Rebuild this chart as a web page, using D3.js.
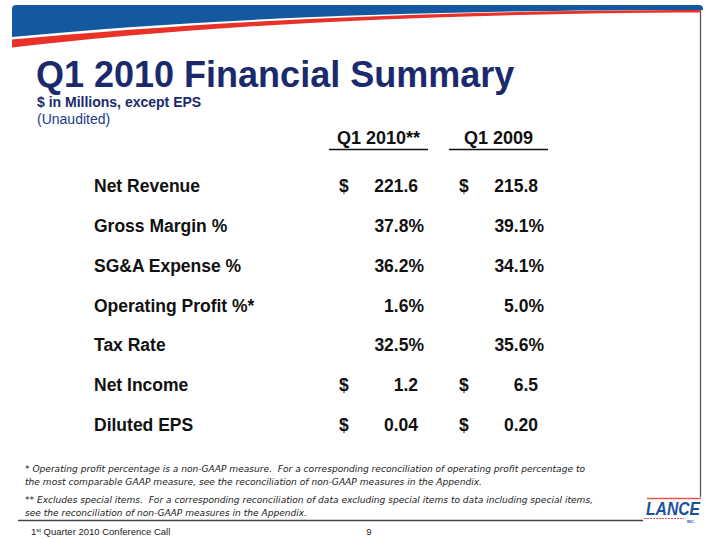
<!DOCTYPE html>
<html>
<head>
<meta charset="utf-8">
<script src="https://cdn.jsdelivr.net/npm/d3@7"></script>
<style>
  html, body { margin: 0; padding: 0; background: #fff; }
  svg { display: block; }
</style>
</head>
<body>
<script>
// ---- data ----
const metrics = ["Net Revenue", "Gross Margin %", "SG&A Expense %", "Operating Profit %*", "Tax Rate", "Net Income", "Diluted EPS"];
const periods = ["Q1 2010**", "Q1 2009"];
const q1_2010 = [221.6, 37.8, 36.2, 1.6, 32.5, 1.2, 0.04];
const q1_2009 = [215.8, 39.1, 34.1, 5.0, 35.6, 6.5, 0.20];
const valueKinds = ["usd1", "pct", "pct", "pct", "pct", "usd1", "usd2"];
const titleText = "Q1 2010 Financial Summary";
const subtitleText = "$ in Millions, except EPS";
const noteText = "(Unaudited)";
const footnotes = [
  "* Operating profit percentage is a non-GAAP measure.  For a corresponding reconciliation of operating profit percentage to",
  "the most comparable GAAP measure, see the reconciliation of non-GAAP measures in the Appendix.",
  "** Excludes special items.  For a corresponding reconciliation of data excluding special items to data including special items,",
  "see the reconciliation of non-GAAP measures in the Appendix."
];
const pageNumber = "9";

// ---- drawing ----
const W = 720, H = 539;
const svg = d3.select("body").append("svg").attr("width", W).attr("height", H);

// header band
svg.append("path")
  .attr("d", "M12,9 Q12,5 16,5 L699,5 Q703,5 703,9 L703,10 C420,10 200,19 12,37 Z")
  .attr("fill", "#14589f");
svg.append("path")
  .attr("d", "M12,39.5 C200,22 420,10.5 701,10 L701,12.5 C420,13.5 200,26 12,47.5 Z")
  .attr("fill", "#ea3127");

// right vertical rule and bottom rule
svg.append("line").attr("x1", 700.5).attr("x2", 700.5).attr("y1", 12).attr("y2", 497)
  .attr("stroke", "#555").attr("stroke-width", 1.3);
svg.append("line").attr("x1", 18).attr("x2", 643).attr("y1", 520.5).attr("y2", 520.5)
  .attr("stroke", "#444").attr("stroke-width", 1.3);

// title block
svg.append("text").attr("x", 36).attr("y", 87)
  .attr("font-family", "Liberation Sans, Arial, sans-serif").attr("font-weight", "bold")
  .attr("font-size", 36).attr("fill", "#1a2a6c").text(titleText);
svg.append("text").attr("x", 37).attr("y", 107)
  .attr("font-family", "Liberation Sans, Arial, sans-serif").attr("font-weight", "bold")
  .attr("font-size", 14).attr("fill", "#1a2a6c").text(subtitleText);
svg.append("text").attr("x", 37).attr("y", 124)
  .attr("font-family", "Liberation Sans, Arial, sans-serif")
  .attr("font-size", 14).attr("fill", "#213a8c").text(noteText);

// scales
const x = d3.scaleBand().domain(periods).range([329, 548]).paddingInner(0.175).paddingOuter(0);
const y = d3.scalePoint().domain(metrics).range([192, 431]);

const font = "Liberation Sans, Arial, sans-serif";
const ink = "#111";

// column headers
const hdr = svg.append("g");
periods.forEach(p => {
  hdr.append("text").attr("x", x(p) + x.bandwidth() / 2).attr("y", 144)
    .attr("text-anchor", "middle").attr("font-family", font).attr("font-weight", "bold")
    .attr("font-size", 18).attr("fill", ink).text(p);
  hdr.append("line").attr("x1", x(p)).attr("x2", x(p) + x.bandwidth())
    .attr("y1", 149.5).attr("y2", 149.5).attr("stroke", ink).attr("stroke-width", 1.3);
});

// row labels
svg.append("g").selectAll("text").data(metrics).join("text")
  .attr("x", 94).attr("y", d => y(d))
  .attr("font-family", font).attr("font-weight", "bold").attr("font-size", 17.5)
  .attr("fill", ink).text(d => d);

// values
const series = [q1_2010, q1_2009];
function fmt(v, kind) {
  if (kind === "pct") return d3.format(".1f")(v) + "%";
  if (kind === "usd2") return d3.format(".2f")(v);
  return d3.format(".1f")(v);
}
periods.forEach((p, pi) => {
  const g = svg.append("g");
  const cells = metrics.map((m, i) => ({ m, v: series[pi][i], kind: valueKinds[i] }));
  g.selectAll("text.dollar").data(cells.filter(c => c.kind !== "pct")).join("text")
    .attr("class", "dollar")
    .attr("x", x(p) + 10).attr("y", c => y(c.m))
    .attr("font-family", font).attr("font-weight", "bold").attr("font-size", 17.5)
    .attr("fill", ink).text("$");
  g.selectAll("text.val").data(cells).join("text")
    .attr("class", "val")
    .attr("x", c => x(p) + (c.kind === "pct" ? 95 : 89)).attr("y", c => y(c.m))
    .attr("text-anchor", "end")
    .attr("font-family", font).attr("font-weight", "bold").attr("font-size", 17.5)
    .attr("fill", ink).text(c => fmt(c.v, c.kind));
});

// footnotes
const fnY = [472, 485, 503, 516];
const fnLen = [560, 457, 568, 282];
svg.append("g").selectAll("text").data(footnotes).join("text")
  .attr("x", 25).attr("y", (d, i) => fnY[i])
  .style("white-space", "pre")
  .attr("font-family", "DejaVu Sans, Verdana, sans-serif").attr("font-style", "italic")
  .attr("font-size", 9).attr("fill", "#222")
  .attr("textLength", (d, i) => fnLen[i]).attr("lengthAdjust", "spacingAndGlyphs")
  .text(d => d);

// footer
const ft = svg.append("text").attr("x", 31).attr("y", 535)
  .attr("font-family", font).attr("font-size", 9.5).attr("fill", "#222");
ft.append("tspan").text("1");
ft.append("tspan").attr("font-size", 6).attr("dy", -3.5).text("st");
ft.append("tspan").attr("dy", 3.5).text(" Quarter 2010 Conference Call");
svg.append("text").attr("x", 369).attr("y", 535).attr("text-anchor", "middle")
  .attr("font-family", font).attr("font-size", 9.5).attr("fill", "#222").text(pageNumber);

// logo
const logo = svg.append("g");
logo.append("line").attr("x1", 647).attr("x2", 701).attr("y1", 498.5).attr("y2", 498.5)
  .attr("stroke", "#e8554f").attr("stroke-width", 1.5);
logo.append("text").attr("x", 646).attr("y", 515)
  .attr("font-family", font).attr("font-weight", "bold").attr("font-style", "italic")
  .attr("font-size", 19).attr("fill", "#1c4f9e")
  .attr("textLength", 54).attr("lengthAdjust", "spacingAndGlyphs").text("LANCE");
logo.append("line").attr("x1", 644).attr("x2", 684).attr("y1", 518.5).attr("y2", 518.5)
  .attr("stroke", "#e8554f").attr("stroke-width", 1).attr("stroke-dasharray", "2,1");
logo.append("text").attr("x", 691).attr("y", 523).attr("text-anchor", "middle")
  .attr("font-family", font).attr("font-weight", "bold").attr("font-size", 4)
  .attr("fill", "#1c4f9e").text("INC.");
</script>
</body>
</html>
